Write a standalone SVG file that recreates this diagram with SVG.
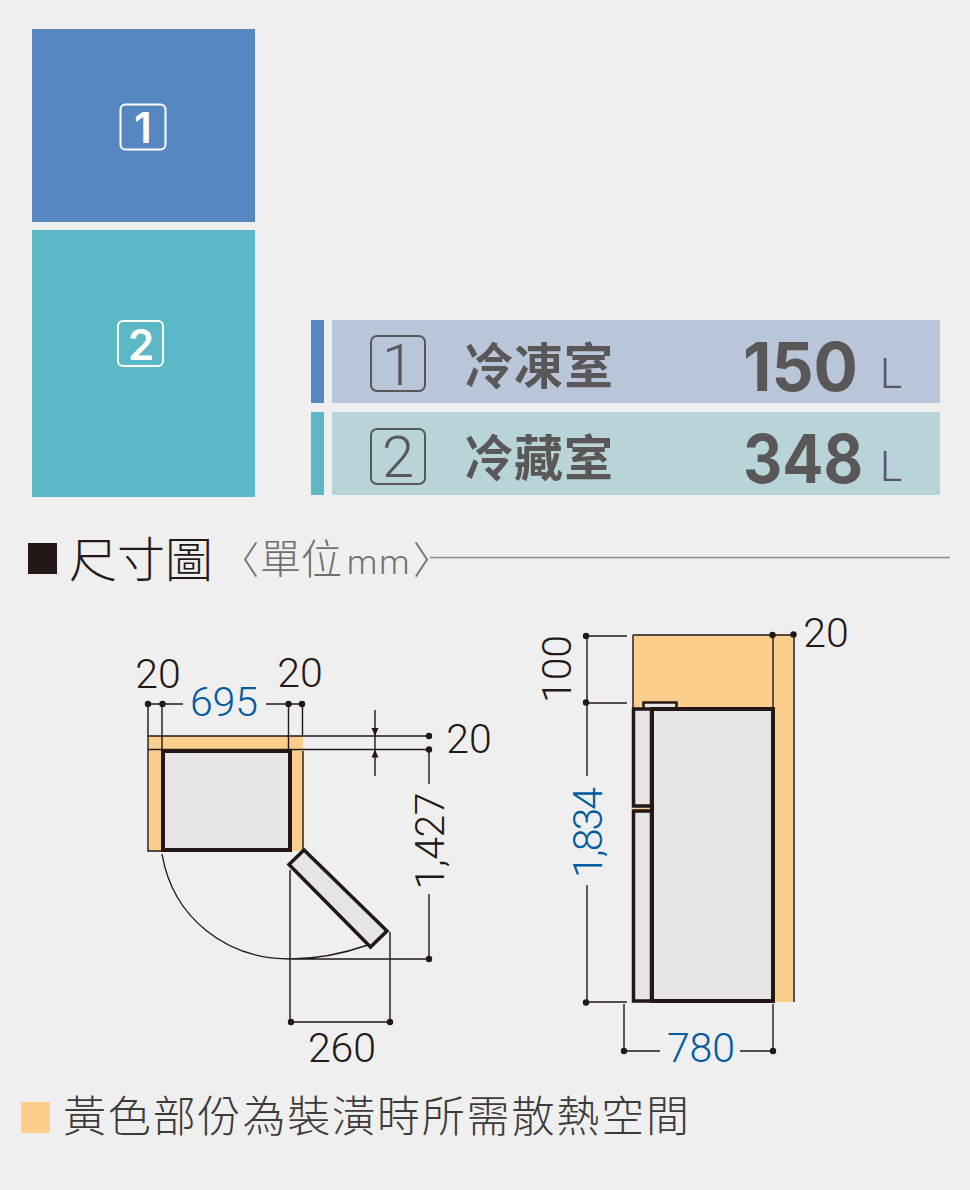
<svg xmlns="http://www.w3.org/2000/svg" width="970" height="1190" viewBox="0 0 970 1190">
<style>
.l{stroke:#231815;stroke-width:1.4;fill:none}
.h{stroke:#231815;stroke-width:4;fill:#e5e5e5}
.y{fill:#fbcf8b}
.d{fill:#231815}
.s{font-family:Roboto,"Liberation Sans",sans-serif;font-weight:300;font-size:41px;fill:#231815}
.b{fill:#005ba2}
.c{font-family:"Noto Sans CJK TC","Noto Sans CJK SC",sans-serif}
.r{font-family:Inter,"Liberation Sans",sans-serif;font-weight:600;font-size:42px;fill:#fff}
.n{font-family:Inter,"Liberation Sans",sans-serif;font-weight:700;font-size:67px;fill:#595757}
.u{font-family:Roboto,"Liberation Sans",sans-serif;font-weight:300;fill:#595757}
.t{font-size:49px;font-weight:700;fill:#595757}
.k{fill:none;stroke:#595757;stroke-width:2}
</style>
<rect width="970" height="1190" fill="#efefef"/>
<g id="zone-1">
<rect x="32" y="29" width="223" height="193" fill="#5787c0"/>
<rect x="120.500" y="104.500" width="45" height="45" rx="5" fill="none" stroke="#fff" stroke-width="2"/>
<text x="143" y="143" text-anchor="middle" class="r">1</text>
</g>
<g id="zone-2">
<rect x="32" y="230" width="223" height="267" fill="#5cb8c6"/>
<rect x="118" y="321" width="45" height="45" rx="5" fill="none" stroke="#fff" stroke-width="2"/>
<text x="141" y="360" text-anchor="middle" class="r">2</text>
</g>
<g id="row-1">
<rect x="311" y="320" width="13" height="83" fill="#5787c0"/>
<rect x="332" y="320" width="608" height="83" fill="#b9c6d9"/>
<rect x="371" y="336" width="54" height="55" rx="6" class="k"/>
<text x="398" y="385" text-anchor="middle" class="u" font-size="58">1</text>
<text x="464" y="384" class="c t" textLength="149">冷凍室</text>
<text x="743" y="391" class="n" textLength="115" lengthAdjust="spacingAndGlyphs">150</text>
<text x="880" y="388" class="u" font-size="42">L</text>
</g>
<g id="row-2">
<rect x="311" y="412" width="13" height="83" fill="#5cb8c6"/>
<rect x="332" y="412" width="608" height="83" fill="#b9d4d9"/>
<rect x="371" y="429" width="54" height="55" rx="6" class="k"/>
<text x="398" y="477" text-anchor="middle" class="u" font-size="58">2</text>
<text x="464" y="476" class="c t" textLength="149">冷藏室</text>
<text x="743" y="483" class="n" textLength="120" lengthAdjust="spacingAndGlyphs">348</text>
<text x="880" y="481" class="u" font-size="42">L</text>
</g>
<g id="heading">
<rect x="28" y="543" width="29" height="31" class="d"/>
<text x="69" y="577" class="c" font-size="48" font-weight="300" fill="#231815" textLength="144">尺寸圖</text>
<text y="574" class="c" font-size="38" font-weight="300" fill="#6f6f6f"><tspan x="221">〈</tspan><tspan x="260" font-size="41">單位</tspan><tspan x="347" font-family="Roboto,sans-serif" font-size="34" letter-spacing="2">mm</tspan><tspan x="413">〉</tspan></text>
<line x1="430" y1="557.500" x2="950" y2="557.500" stroke="#8c8c8c" stroke-width="1.500"/>
</g>
<g id="plan-view">
<rect x="148.500" y="736" width="154.500" height="115" class="y"/>
<rect x="163" y="751" width="127" height="99" class="h"/>
<polygon points="304,850 289,864.500 370.500,947 387,931" class="h" style="stroke-width:3.500"/>
</g>
<g id="side-view">
<rect x="633" y="635" width="161" height="367" class="y"/>
<rect x="643.500" y="702.500" width="33" height="7" class="h" style="stroke-width:2.500"/>
<rect x="652" y="709" width="121" height="292" class="h"/>
<rect x="633.500" y="709" width="18" height="97" class="h" style="stroke-width:3.500"/>
<rect x="633.500" y="811" width="18" height="190" class="h" style="stroke-width:3.500"/>
</g>
<g id="connectors">
<path class="l" d="M148 704V851H163M162 704V751M288.500 704V751M302.500 704V736M148 736H429M148 749.500H429M148 704H183M266 704H302M375 710V776M429 749.500V784M429 894V959M162 854C173 918 226 959 290 959C320 959 345 953 368 945M290 959H429M290 870V1022H390V932M587 636H627M587 703H627M587 636V776M587 885V1002H627M772 635H794M773 635V708M794 635V1002M633 635H772M633 635V708M303 751V851M624 1004V1051H660M773 1004V1051H740"/>
<path class="d" d="M375 736l-3.500-8h7zM375 749.500l-3.500 8h7z"/>
<g class="d">
<circle cx="148" cy="704" r="3.200"/><circle cx="162.500" cy="704" r="3.200"/><circle cx="288.500" cy="704" r="3.200"/><circle cx="302" cy="704" r="3.200"/>
<circle cx="429" cy="736" r="3.200"/><circle cx="429" cy="749.500" r="3.200"/><circle cx="429" cy="959" r="3.200"/>
<circle cx="291" cy="1022" r="3.200"/><circle cx="390" cy="1022" r="3.200"/>
<circle cx="586" cy="636" r="3.200"/><circle cx="586" cy="702.500" r="3.200"/><circle cx="586" cy="1002.500" r="3.200"/>
<circle cx="772.500" cy="635" r="3.200"/><circle cx="793.500" cy="634.500" r="3.200"/>
<circle cx="624" cy="1051" r="3.200"/><circle cx="773" cy="1051" r="3.200"/>
</g>
</g>
<g id="dimensions">
<text x="158" y="688" text-anchor="middle" class="s">20</text>
<text x="300" y="687" text-anchor="middle" class="s">20</text>
<text x="224" y="716" text-anchor="middle" class="s b">695</text>
<text x="469" y="753" text-anchor="middle" class="s">20</text>
<text x="342" y="1062" text-anchor="middle" class="s">260</text>
<text transform="translate(444 841) rotate(-90)" text-anchor="middle" class="s" textLength="97">1,427</text>
<text transform="translate(571 669) rotate(-90)" text-anchor="middle" class="s">100</text>
<text transform="translate(602 832.500) rotate(-90)" text-anchor="middle" class="s b" textLength="91">1,834</text>
<text x="826" y="647" text-anchor="middle" class="s">20</text>
<text x="701" y="1062" text-anchor="middle" class="s b">780</text>
</g>
<g id="note">
<rect x="21" y="1102" width="29" height="31" class="y"/>
<text x="63" y="1132" class="c" font-size="43" font-weight="300" fill="#3e3a39" textLength="626">黃色部份為裝潢時所需散熱空間</text>
</g>
</svg>
